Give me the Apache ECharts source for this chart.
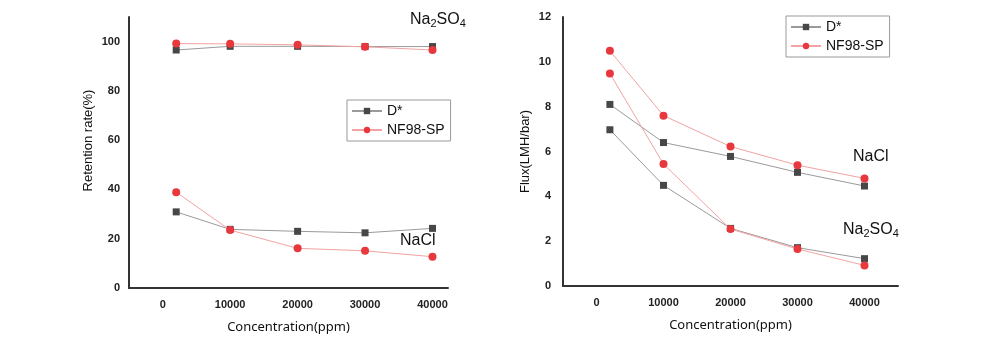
<!DOCTYPE html>
<html>
<head>
<meta charset="UTF-8">
<title>Retention and flux</title>
<script src="https://cdn.jsdelivr.net/npm/echarts@6/dist/echarts.min.js"></script>
<style>
  html, body { margin: 0; padding: 0; background: #fff; }
  #main { width: 1000px; height: 350px; }
</style>
</head>
<body>
<div id="main"></div>
<script>
// concentrations (ppm)
var conc = [2000, 10000, 20000, 30000, 40000];
var xTicks = [0, 10000, 20000, 30000, 40000];

// retention rate (%)
var retD_Na2SO4 = [96.6, 98.1, 98.1, 98.0, 98.0];
var retNF_Na2SO4 = [99.2, 99.1, 98.7, 97.9, 96.6];
var retD_NaCl = [30.9, 23.8, 23.0, 22.4, 24.2];
var retNF_NaCl = [38.9, 23.5, 16.1, 15.1, 12.7];
var retTicks = [0, 20, 40, 60, 80, 100];

// flux (LMH/bar)
var fluxD_NaCl = [8.1, 6.4, 5.78, 5.07, 4.46];
var fluxNF_NaCl = [10.49, 7.6, 6.22, 5.39, 4.8];
var fluxD_Na2SO4 = [6.97, 4.49, 2.57, 1.71, 1.22];
var fluxNF_Na2SO4 = [9.48, 5.44, 2.54, 1.65, 0.92];

function pairs(ys) {
  return conc.map(function (c, i) { return [c, ys[i]]; });
}

var fontFam = 'Liberation Sans, Arial, sans-serif';
var axisLine = { show: true, onZero: false, lineStyle: { color: '#333', width: 2 } };
var tickLbl = {
  color: '#222', fontSize: 11, fontWeight: 'bold', fontFamily: fontFam,
  formatter: function (v) { return String(v); }
};

function dSeries(x, y, data) {
  return {
    name: 'D*', type: 'line', xAxisIndex: x, yAxisIndex: y,
    data: pairs(data), symbol: 'rect', symbolSize: 7,
    itemStyle: { color: '#474747' },
    lineStyle: { color: '#9a9a9a', width: 1 },
    z: 3
  };
}
function nfSeries(x, y, data) {
  return {
    name: 'NF98-SP', type: 'line', xAxisIndex: x, yAxisIndex: y,
    data: pairs(data), symbol: 'circle', symbolSize: 8,
    itemStyle: { color: '#e8383d' },
    lineStyle: { color: '#f2a3a3', width: 1 },
    z: 4
  };
}

function legend(left, top) {
  return {
    data: ['D*', 'NF98-SP'], orient: 'vertical', left: left, top: top,
    itemWidth: 30, itemHeight: 8, itemGap: 5,
    padding: [4, 6, 4, 4],
    borderColor: '#999', borderWidth: 1,
    textStyle: { fontSize: 14, color: '#111', fontFamily: fontFam }
  };
}

function label(left, top, rich) {
  return {
    type: 'text', left: left, top: top,
    style: {
      text: rich ? 'Na{s|2}SO{s|4}' : 'NaCl',
      fill: '#111', fontSize: 16, fontFamily: fontFam,
      rich: { s: { fontSize: 11, fill: '#111', fontFamily: fontFam, padding: [7, 0, 0, 0] } }
    }
  };
}

var myChart = echarts.init(document.getElementById('main'));
var option = {
  animation: false,
  backgroundColor: '#fff',
  grid: [
    { left: 129, top: 17, width: 319, height: 271 },
    { left: 563, top: 17, width: 335, height: 269 }
  ],
  xAxis: [0, 1].map(function (i) {
    return {
      type: 'value', gridIndex: i, min: -5000, max: i === 0 ? 42300 : 45000,
      name: 'Concentration(ppm)', nameLocation: 'middle', nameGap: 33,
      nameTextStyle: { fontSize: 13, color: '#111', fontFamily: 'Noto Sans, sans-serif' },
      axisLine: axisLine, axisTick: { show: false }, splitLine: { show: false },
      axisLabel: Object.assign({ customValues: xTicks, margin: 11 }, tickLbl)
    };
  }),
  yAxis: [
    {
      type: 'value', gridIndex: 0, min: 0, max: 110,
      name: 'Retention rate(%)', nameLocation: 'middle', nameGap: 34,
      nameTextStyle: { fontSize: 13, color: '#111', fontFamily: fontFam, padding: [0, 0, 0, 24] },
      axisLine: axisLine, axisTick: { show: false }, splitLine: { show: false },
      axisLabel: Object.assign({ customValues: retTicks, margin: 9 }, tickLbl)
    },
    {
      type: 'value', gridIndex: 1, min: 0, max: 12, interval: 2,
      name: 'Flux(LMH/bar)', nameLocation: 'middle', nameGap: 31,
      nameTextStyle: { fontSize: 13, color: '#111', fontFamily: fontFam },
      axisLine: axisLine, axisTick: { show: false }, splitLine: { show: false },
      axisLabel: Object.assign({ margin: 12 }, tickLbl)
    }
  ],
  legend: [legend(347, 100), legend(786, 16)],
  series: [
    dSeries(0, 0, retD_Na2SO4), nfSeries(0, 0, retNF_Na2SO4),
    dSeries(0, 0, retD_NaCl), nfSeries(0, 0, retNF_NaCl),
    dSeries(1, 1, fluxD_NaCl), nfSeries(1, 1, fluxNF_NaCl),
    dSeries(1, 1, fluxD_Na2SO4), nfSeries(1, 1, fluxNF_Na2SO4)
  ],
  graphic: [
    label(410, 12, true),
    label(400, 233, false),
    label(853, 149, false),
    label(843, 222, true)
  ]
};
myChart.setOption(option);
</script>
</body>
</html>
